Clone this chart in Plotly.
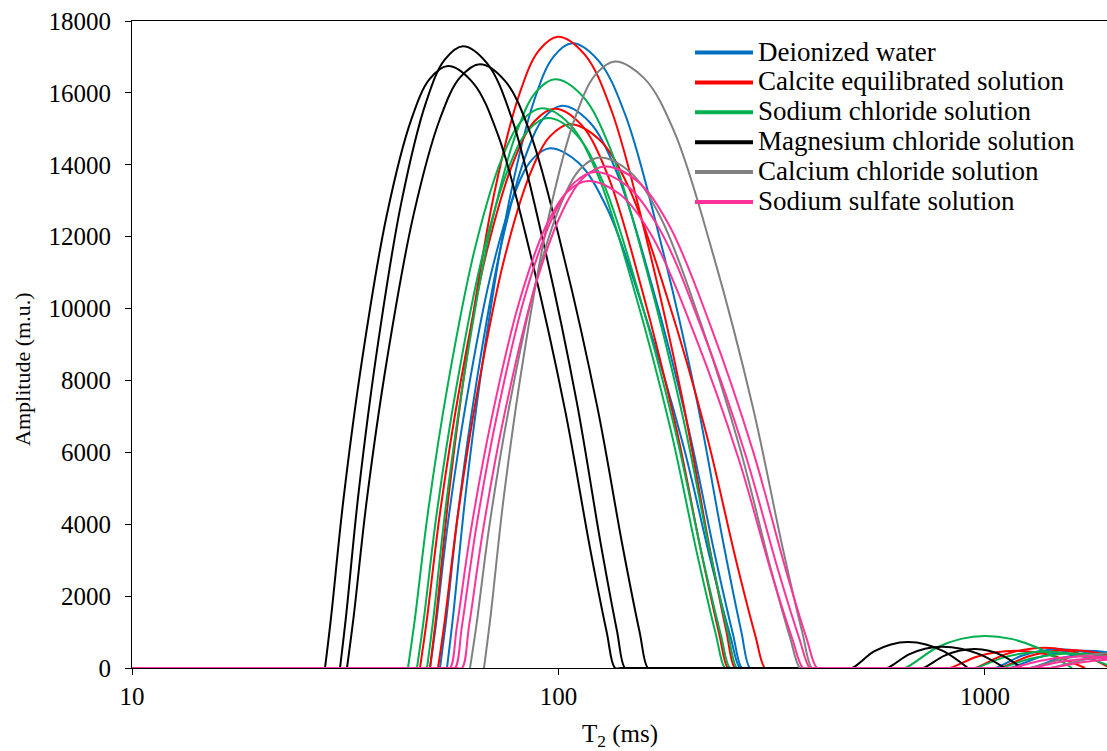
import plotly.graph_objects as go

FONT = "Liberation Serif"

SERIES_NAMES = ["Deionized water", "Calcite equilibrated solution", "Sodium chloride solution",
                "Magnesium chloride solution", "Calcium chloride solution", "Sodium sulfate solution"]
SERIES_COLORS = ["#0070C0", "#FF0000", "#00B050", "#000000", "#808080", "#FF3399"]

X_TICKS = [10, 100, 1000]
X_TICK_TEXT = ["10", "100", "1000"]

# Deionized water (T2 in ms, amplitude in m.u.)
DI_T2 = [
    [54.77, 56.65, 60.61, 67.07, 76.76, 87.85, 97.21, 107.6, 124.2, 143.5, 173.9, 210.8, 243.5, 268.0, 281.2, 290, 1020, 1055.4, 1214.5, 1345.7, 1499.2, 1670.1, 1850.6, 2129.4],
    [52.74, 54.51, 58.22, 64.27, 73.30, 83.64, 92.32, 101.9, 117.9, 136.4, 165.7, 201.2, 232.8, 256.5, 269.3, 278, 1110, 1144.5, 1345.7, 1515.5, 1715.8, 1942.7, 2187.7, 2572.3],
    [49.97, 51.62, 55.07, 60.69, 69.09, 78.65, 86.67, 95.52, 111.4, 129.9, 159.5, 195.9, 228.4, 253.1, 266.4, 275, 1235, 1275.0, 1499.2, 1688.3, 1911.4, 2164.2, 2437.1, 2865.6],
]
DI_AMP = [
    [0, 1477, 4866, 8864, 13035, 15816, 16998, 17380, 16893, 15381, 11818, 7473, 3476, 1043, 0, 0, 0, 0, 333, 473, 520, 473, 333, 0],
    [0, 1329, 4379, 7976, 11730, 14232, 15296, 15640, 15202, 13841, 10635, 6725, 3128, 938, 0, 0, 0, 0, 307, 437, 480, 437, 307, 0],
    [0, 1229, 4049, 7375, 10845, 13159, 14142, 14460, 14055, 12797, 9833, 6218, 2892, 868, 0, 0, 0, 0, 269, 382, 420, 382, 269, 0],
]

# Calcite equilibrated solution
CA_T2 = [
    [49.97, 51.73, 55.43, 61.48, 70.60, 81.06, 89.91, 99.73, 115.1, 132.8, 160.8, 194.7, 224.7, 247.2, 259.3, 267, 920, 947.4, 1102.1, 1234.4, 1382.6, 1531.9, 1706.6, 1963.8],
    [47.34, 49.10, 52.81, 58.92, 68.16, 78.86, 87.97, 98.13, 112.9, 129.9, 156.5, 188.7, 217.1, 238.3, 249.7, 257, 803, 827.8, 952.6, 1061.2, 1175.8, 1317.0, 1475.1, 1715.8],
    [52.18, 54.07, 58.06, 64.61, 74.51, 85.93, 95.62, 106.4, 124.6, 145.9, 180.1, 222.3, 260.4, 289.3, 304.9, 314, 1052, 1084.4, 1261.3, 1412.7, 1582.3, 1772.3, 1985.1, 2309.0],
]
CA_AMP = [
    [0, 1493, 4918, 8958, 13174, 15984, 17179, 17565, 17073, 15545, 11944, 7553, 3513, 1054, 0, 0, 0, 0, 358, 510, 560, 510, 358, 0],
    [0, 1323, 4357, 7936, 11670, 14160, 15218, 15560, 15124, 13771, 10581, 6691, 3112, 934, 0, 0, 0, 0, 307, 437, 480, 437, 307, 0],
    [0, 1286, 4236, 7716, 11348, 13768, 14797, 15130, 14706, 13390, 10288, 6506, 3026, 908, 0, 0, 0, 0, 320, 455, 500, 455, 320, 0],
]

# Sodium chloride solution
NACL_T2 = [
    [49.17, 50.90, 54.54, 60.50, 69.46, 79.76, 88.47, 98.13, 113.7, 131.8, 160.4, 195.2, 226.2, 249.6, 262.1, 270, 630, 649.3, 771.7, 878.5, 1000.0, 1150.7, 1324.1, 1599.5],
    [44.37, 46.01, 49.46, 55.13, 63.71, 73.63, 82.07, 91.48, 106.1, 123.0, 149.9, 182.7, 211.9, 233.9, 245.7, 253, 920, 947.4, 1102.1, 1234.4, 1382.6, 1548.5, 1734.4, 2017.5],
    [46.58, 48.26, 51.80, 57.60, 66.35, 76.43, 84.98, 94.49, 109.5, 126.9, 154.4, 188.0, 217.8, 240.3, 252.4, 260, 1052, 1084.4, 1275.0, 1435.8, 1625.6, 1840.6, 2072.7, 2437.1],
]
NACL_AMP = [
    [0, 1392, 4586, 8354, 12285, 14906, 16020, 16380, 15921, 14496, 11138, 7043, 3276, 983, 0, 0, 0, 0, 570, 810, 890, 810, 570, 0],
    [0, 1323, 4360, 7941, 11678, 14169, 15227, 15570, 15134, 13779, 10588, 6695, 3114, 934, 0, 0, 0, 0, 288, 410, 450, 410, 288, 0],
    [0, 1301, 4284, 7803, 11475, 13923, 14963, 15300, 14872, 13541, 10404, 6579, 3060, 918, 0, 0, 0, 0, 256, 364, 400, 364, 256, 0],
]

# Magnesium chloride solution
MGCL_T2 = [
    [28.35, 29.30, 31.32, 34.60, 39.51, 45.12, 49.85, 55.07, 63.04, 72.17, 86.44, 103.5, 118.5, 129.7, 135.7, 140, 473, 487.7, 549.2, 602.0, 659.9, 727.2, 801.4, 912.3],
    [30.74, 31.78, 33.96, 37.52, 42.85, 48.93, 54.06, 59.72, 68.09, 77.63, 92.47, 110.2, 125.6, 137.1, 143.2, 147.5, 571, 589.1, 663.4, 723.3, 792.8, 878.5, 973.4, 1114.0],
    [31.92, 33.09, 35.55, 39.60, 45.71, 52.77, 58.77, 65.46, 75.00, 85.93, 103.0, 123.5, 141.5, 154.9, 162.1, 167, 694, 715.5, 801.4, 869.0, 947.4, 1021.8, 1102.1, 1221.1],
]
MGCL_AMP = [
    [0, 1424, 4690, 8543, 12563, 15243, 16382, 16750, 16281, 14824, 11390, 7203, 3350, 1005, 0, 0, 0, 0, 461, 655, 720, 655, 461, 0],
    [0, 1471, 4844, 8823, 12975, 15743, 16919, 17300, 16816, 15311, 11764, 7439, 3460, 1038, 0, 0, 0, 0, 378, 537, 590, 537, 378, 0],
    [0, 1428, 4704, 8568, 12600, 15288, 16430, 16800, 16330, 14868, 11424, 7224, 3360, 1008, 0, 0, 0, 0, 339, 482, 530, 482, 339, 0],
]

# Calcium chloride solution
CACL_T2 = [
    [66.89, 69.29, 74.37, 82.69, 95.26, 109.7, 122.0, 135.7, 159.1, 186.7, 230.9, 285.6, 335.0, 372.6, 393.0, 405, 1237, 1275.0, 1548.5, 1791.6, 2072.7, 2359.4, 2685.9, 3192.4],
    [62.02, 64.23, 68.90, 76.55, 88.09, 101.4, 112.6, 125.1, 147.1, 173.0, 214.7, 266.4, 313.3, 349.0, 368.4, 379, 1378, 1420.4, 1725.1, 1995.8, 2309.0, 2671.4, 3090.6, 3753.6],
]
CACL_AMP = [
    [0, 1434, 4724, 8604, 12653, 15352, 16499, 16870, 16398, 14930, 11472, 7254, 3374, 1012, 0, 0, 0, 0, 269, 382, 420, 382, 269, 0],
    [0, 1207, 3976, 7242, 10650, 12922, 13888, 14200, 13802, 12567, 9656, 6106, 2840, 852, 0, 0, 0, 0, 243, 346, 380, 346, 243, 0],
]

# Sodium sulfate solution
NASO_T2 = [
    [10, 57.6, 59.40, 61.73, 66.69, 74.87, 87.38, 102.0, 114.5, 128.5, 152.6, 181.2, 227.8, 286.4, 340.1, 381.3, 403.7, 416, 1110, 1144.5, 1360.4, 1548.5, 1762.8, 2006.6, 2284.2, 2715.0],
    [10, 55.5, 57.19, 59.39, 64.06, 71.75, 83.46, 97.07, 108.7, 121.8, 144.9, 172.5, 217.6, 274.4, 326.6, 366.8, 388.8, 400, 1237, 1275.0, 1515.5, 1725.1, 1963.8, 2235.4, 2544.7, 3024.6],
    [10, 54.0, 55.67, 57.78, 62.25, 69.61, 80.80, 93.78, 104.9, 117.3, 139.6, 166.1, 209.5, 264.3, 314.5, 353.3, 374.4, 386, 1378, 1420.4, 1688.3, 1921.8, 2187.7, 2490.3, 2834.8, 3369.5],
]
NASO_AMP = [
    [0, 0, 0, 1186, 3906, 7115, 10463, 12695, 13643, 13950, 13559, 12346, 9486, 5999, 2790, 837, 0, 0, 0, 0, 211, 300, 330, 300, 211, 0],
    [0, 0, 0, 1173, 3864, 7038, 10350, 12558, 13496, 13800, 13414, 12213, 9384, 5934, 2760, 828, 0, 0, 0, 0, 179, 255, 280, 255, 179, 0],
    [0, 0, 0, 1152, 3794, 6911, 10163, 12331, 13252, 13550, 13171, 11992, 9214, 5827, 2710, 813, 0, 0, 0, 0, 160, 228, 250, 228, 160, 0],
]

SERIES_T2 = [DI_T2, CA_T2, NACL_T2, MGCL_T2, CACL_T2, NASO_T2]
SERIES_AMP = [DI_AMP, CA_AMP, NACL_AMP, MGCL_AMP, CACL_AMP, NASO_AMP]

fig = go.Figure()

for name, color, t2_list, amp_list in zip(SERIES_NAMES, SERIES_COLORS, SERIES_T2, SERIES_AMP):
    for t2, amp in zip(t2_list, amp_list):
        assert len(t2) == len(amp)
        fig.add_trace(go.Scatter(
            x=t2, y=amp, mode="lines",
            line=dict(color=color, width=2, shape="spline", smoothing=1),
            showlegend=False, legendgroup=name, hoverinfo="skip",
        ))

# legend entries (thicker sample lines, as in the original)
for name, color in zip(SERIES_NAMES, SERIES_COLORS):
    fig.add_trace(go.Scatter(
        x=[None], y=[None], mode="lines",
        line=dict(color=color, width=4),
        name='<span style="font-size:27px">' + name + '</span>',
        legendgroup=name, showlegend=True,
    ))

fig.update_layout(
    width=1107, height=751,
    margin=dict(l=132, r=0, t=21, b=83),
    paper_bgcolor="white", plot_bgcolor="white",
    font=dict(family=FONT, size=24, color="black"),
    legend=dict(
        x=0.5723, y=0.9822, xanchor="left", yanchor="top",
        bgcolor="rgba(0,0,0,0)", borderwidth=0,
        font=dict(family=FONT, size=20.7, color="black"),
        tracegroupgap=0, itemwidth=58,
    ),
    xaxis=dict(
        type="log", range=[1, 3.2861],
        tickvals=X_TICKS, ticktext=X_TICK_TEXT,
        ticks="outside", ticklen=6, tickcolor="black", tickwidth=1,
        showline=True, linecolor="black", linewidth=1, mirror=True,
        showgrid=False, zeroline=False,
        tickfont=dict(family=FONT, size=25, color="black"),
    ),
    yaxis=dict(
        range=[0, 18000], dtick=2000, tickformat="d",
        ticks="outside", ticklen=6, tickcolor="black", tickwidth=1,
        showline=True, linecolor="black", linewidth=1,
        showgrid=False, zeroline=False, ticklabelstandoff=9,
        tickfont=dict(family=FONT, size=25, color="black"),
    ),
    annotations=[
        dict(text="T<sub>2</sub> (ms)", xref="paper", yref="paper", x=0.5, y=-0.1036,
             xanchor="center", yanchor="middle", showarrow=False,
             font=dict(family=FONT, size=25, color="black")),
        dict(text="Amplitude (m.u.)", xref="paper", yref="paper", x=-0.113, y=0.462,
             xanchor="center", yanchor="middle", textangle=-90, showarrow=False,
             font=dict(family=FONT, size=22, color="black")),
    ],
)

fig.write_html("out.html")
